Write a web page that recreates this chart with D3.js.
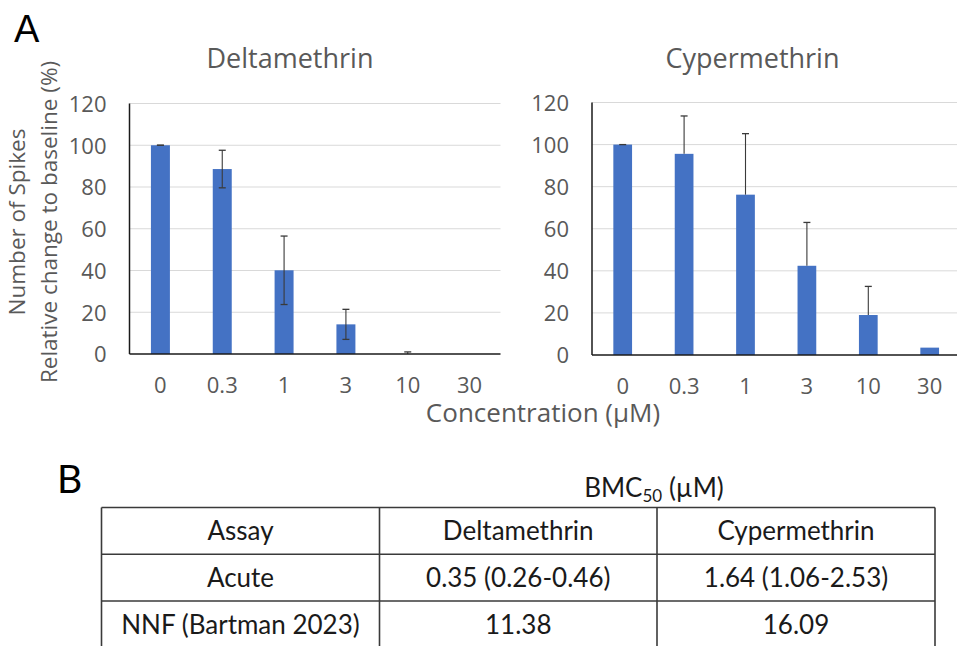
<!DOCTYPE html>
<html>
<head>
<meta charset="utf-8">
<script src="https://cdn.jsdelivr.net/npm/d3@7"></script>
<style>
  html, body { margin: 0; padding: 0; background: #fff; }
  svg { display: block; }
</style>
</head>
<body>
<svg id="chart" width="957" height="646"></svg>
<script>
// ---- data ----
const categories = ["0", "0.3", "1", "3", "10", "30"];
const deltaValues = [100, 88.6, 40.1, 14.2, 0, 0];
const deltaErrors = [0, 9, 16.4, 7.2, 1, null];
const cyperValues = [100, 95.6, 76.2, 42.4, 19, 3.5];
const cyperErrors = [0, 18, 29, 20.6, 13.6, null];
const yTicks = [0, 20, 40, 60, 80, 100, 120];
const chartTitles = ["Deltamethrin", "Cypermethrin"];
const yTitleLines = ["Number of Spikes", "Relative change to baseline (%)"];
const xTitle = "Concentration (\u00b5M)";
const tableHeader = ["Assay", "Deltamethrin", "Cypermethrin"];
const tableRows = [
  ["Acute", "0.35 (0.26-0.46)", "1.64 (1.06-2.53)"],
  ["NNF (Bartman 2023)", "11.38", "16.09"]
];

// ---- styles ----
const chartFont = "'Open Sans', 'Noto Sans', sans-serif";
const tableFont = "Lato, 'Noto Sans', sans-serif";
const gray = "#595959";
const barColor = "#4472C4";

const svg = d3.select("#chart");

svg.append("text").attr("x", 14).attr("y", 42)
  .attr("font-family", "'Liberation Sans', Arial, sans-serif")
  .attr("font-size", 38).attr("fill", "#000").text("A");

function panel(opts) {
  const g = svg.append("g");
  const y = d3.scaleLinear().domain([0, 120]).range([opts.y0, opts.y1]);
  const x = d3.scaleBand().domain(categories).range([opts.x0, opts.x1])
    .paddingInner(opts.pad).paddingOuter(opts.pad / 2);

  // gridlines
  g.selectAll("line.grid").data(yTicks.filter(d => d > 0)).join("line")
    .attr("x1", opts.x0).attr("x2", opts.gridEnd)
    .attr("y1", d => y(d)).attr("y2", d => y(d))
    .attr("stroke", "#d9d9d9").attr("stroke-width", 1);

  // y axis labels
  const ya = g.append("g").attr("transform", `translate(${opts.x0},0)`)
    .call(d3.axisLeft(y).tickValues(yTicks).tickSize(0).tickPadding(23));
  ya.select(".domain").remove();
  ya.selectAll("text").attr("font-family", chartFont).attr("font-size", 22)
    .attr("fill", gray).attr("dy", "0.36em");

  // x axis labels
  const xa = g.append("g").attr("transform", `translate(0,${opts.y0})`)
    .call(d3.axisBottom(x).tickSize(0).tickPadding(23));
  xa.select(".domain").remove();
  xa.selectAll("text").attr("font-family", chartFont).attr("font-size", 22)
    .attr("fill", gray);

  // bars
  g.selectAll("rect.bar").data(opts.values).join("rect")
    .attr("x", (d, i) => x(categories[i]))
    .attr("width", x.bandwidth())
    .attr("y", d => y(d))
    .attr("height", d => y(0) - y(d))
    .attr("fill", barColor);

  // error bars
  const err = opts.values.map((v, i) => ({ v, e: opts.errors[i], c: categories[i] }))
    .filter(d => d.e !== null);
  const cap = 3.5;
  err.forEach(d => {
    const cx = x(d.c) + x.bandwidth() / 2;
    const top = y(d.v + d.e);
    const bot = opts.minus ? y(Math.max(0, d.v - d.e)) : y(d.v);
    g.append("line").attr("x1", cx).attr("x2", cx).attr("y1", top).attr("y2", bot)
      .attr("stroke", "#3a3a3a").attr("stroke-width", 1.1);
    g.append("line").attr("x1", cx - cap).attr("x2", cx + cap).attr("y1", top).attr("y2", top)
      .attr("stroke", "#3a3a3a").attr("stroke-width", 1.3);
    if (opts.minus && d.v - d.e > 0) {
      g.append("line").attr("x1", cx - cap).attr("x2", cx + cap).attr("y1", bot).attr("y2", bot)
        .attr("stroke", "#3a3a3a").attr("stroke-width", 1.3);
    }
  });

  // axis lines
  g.append("line").attr("x1", opts.x0).attr("x2", opts.gridEnd)
    .attr("y1", y(0)).attr("y2", y(0)).attr("stroke", "#1a1a1a").attr("stroke-width", 1.5);
  g.append("line").attr("x1", opts.x0).attr("x2", opts.x0)
    .attr("y1", y(0)).attr("y2", y(120)).attr("stroke", "#1a1a1a").attr("stroke-width", 1.5);

  // title
  g.append("text").attr("x", opts.titleX).attr("y", 68).attr("text-anchor", "middle")
    .attr("font-family", chartFont).attr("font-size", 27).attr("fill", gray)
    .text(opts.title);
}

panel({ x0: 129.5, x1: 500.5, gridEnd: 500.5, y0: 354, y1: 103.5, pad: 0.693,
        values: deltaValues, errors: deltaErrors, minus: true,
        title: chartTitles[0], titleX: 290 });
panel({ x0: 592, x1: 960.4, gridEnd: 960.4, y0: 355, y1: 102.5, pad: 0.695,
        values: cyperValues, errors: cyperErrors, minus: false,
        title: chartTitles[1], titleX: 752.5 });

// y axis title
const yt = svg.append("g").attr("transform", "translate(0,222) rotate(-90)");
yt.selectAll("text").data(yTitleLines).join("text")
  .attr("x", 0).attr("y", (d, i) => i === 0 ? 25 : 57)
  .attr("text-anchor", "middle").attr("font-family", chartFont)
  .attr("font-size", 22.5).attr("fill", gray).text(d => d);

// x axis title
svg.append("text").attr("x", 543).attr("y", 422).attr("text-anchor", "middle")
  .attr("font-family", chartFont).attr("font-size", 26).attr("fill", gray).text(xTitle);

// ---- table (B) ----
svg.append("text").attr("x", 57).attr("y", 493)
  .attr("font-family", tableFont).attr("font-size", 39).attr("fill", "#000").text("B");

const colEdges = [101.5, 379.5, 657, 935];
const rowEdges = [507.5, 554.3, 601, 647.7];
const tfs = 26;

const bmc = svg.append("text").attr("x", 654).attr("y", 497).attr("text-anchor", "middle")
  .attr("font-family", tableFont).attr("font-size", tfs).attr("fill", "#1a1a1a");
bmc.append("tspan").text("BMC");
bmc.append("tspan").attr("font-size", 17).attr("dy", 5).text("50");
bmc.append("tspan").attr("dy", -5).text(" (\u00b5M)");

const tg = svg.append("g");
rowEdges.forEach(ry => {
  tg.append("line").attr("x1", colEdges[0]).attr("x2", colEdges[3])
    .attr("y1", ry).attr("y2", ry).attr("stroke", "#3a3a3a").attr("stroke-width", 1.6);
});
colEdges.forEach(cx => {
  tg.append("line").attr("x1", cx).attr("x2", cx)
    .attr("y1", rowEdges[0]).attr("y2", rowEdges[3]).attr("stroke", "#3a3a3a").attr("stroke-width", 1.6);
});
const allRows = [tableHeader].concat(tableRows);
allRows.forEach((row, r) => {
  row.forEach((cell, c) => {
    tg.append("text")
      .attr("x", (colEdges[c] + colEdges[c + 1]) / 2)
      .attr("y", rowEdges[r] + 32.5)
      .attr("text-anchor", "middle").attr("font-family", tableFont)
      .attr("font-size", tfs).attr("fill", "#1a1a1a").text(cell);
  });
});
</script>
</body>
</html>
